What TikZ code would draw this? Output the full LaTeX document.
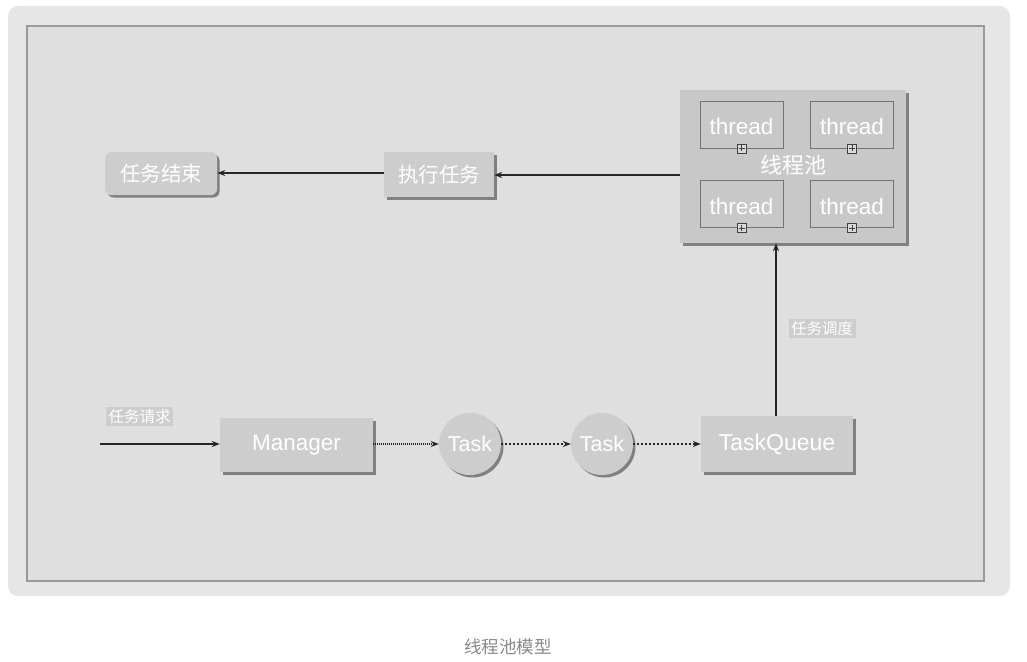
\documentclass[tikz,border=0pt]{standalone}
\usepackage{fontspec}
\setmainfont{Liberation Sans}
\newfontfamily\cjk{Noto Sans CJK SC}
\usetikzlibrary{shadows,arrows.meta}
\definecolor{boxfill}{HTML}{CDCDCD}
\definecolor{poolfill}{HTML}{C8C8C8}
\definecolor{innerbg}{HTML}{DFDFDF}
\definecolor{outerbg}{HTML}{E6E6E6}
\definecolor{framecol}{HTML}{9A9A9A}
\definecolor{capcol}{HTML}{8A8A8A}
\tikzset{
  base/.style={inner sep=0pt, text=white},
  gbox/.style={base, fill=boxfill, drop shadow={shadow xshift=2.5pt, shadow yshift=-2.5pt, opacity=0.7, fill=black!65}},
  thr/.style={draw=black!55, line width=0.9pt, fill=poolfill, minimum width=83pt, minimum height=47pt, inner sep=0pt},
  lbl/.style={fill=boxfill, text=white, inner sep=2.5pt, font=\cjk\fontsize{15.5}{17}\selectfont},
  arr/.style={-{Stealth[length=8pt,width=6pt]}, line width=1.4pt, black!85},
  darr/.style={arr, dash pattern=on 2pt off 2pt, line width=1.1pt},
  marker/.style={draw=black!75, fill=white!85!black, minimum size=9pt, inner sep=0pt, line width=0.7pt},
}
\begin{document}
\begin{tikzpicture}[x=1pt,y=-1pt]
\useasboundingbox (0,0) rectangle (1027,661);
\fill[white] (0,0) rectangle (1027,661);
% outer frame
\fill[outerbg, rounded corners=10pt] (8,6) rectangle (1010,596);
\fill[innerbg] (26,25) rectangle (985,582);
\draw[framecol, line width=2.2pt] (27,26) rectangle (984,581);
% pool
\node[base, fill=poolfill, minimum width=226pt, minimum height=153pt, drop shadow={shadow xshift=3pt, shadow yshift=-3pt, opacity=0.7, fill=black!65}] (pool) at (793,166.5) {};
\node[thr] (t1) at (741.5,124.5) {};
\node[thr] (t2) at (852,124.5) {};
\node[thr] (t3) at (741.5,204) {};
\node[thr] (t4) at (852,204) {};
\foreach \t in {t1,t2,t3,t4}{
  \node[base, font=\fontsize{22.5}{24}\selectfont] at ([yshift=-2pt]\t.center) {thread};
  \node[marker] (m\t) at (\t.south) {};
  \draw[black!75, line width=0.7pt] ([xshift=-3pt]m\t.center) -- ([xshift=3pt]m\t.center)
        ([yshift=-3pt]m\t.center) -- ([yshift=3pt]m\t.center);
}
\node[base, font=\cjk\fontsize{22}{24}\selectfont] (poolname) at (793,165) {线程池};
% top row
\node[gbox, rounded corners=6pt, minimum width=112pt, minimum height=43pt, font=\cjk\fontsize{20.5}{22}\selectfont] (end) at (161,173.5) {任务结束};
\node[gbox, minimum width=110pt, minimum height=45pt, font=\cjk\fontsize{20.5}{22}\selectfont] (exec) at (439,174.5) {执行任务};
\draw[arr] (pool.west |- 0,175) -- (exec.east |- 0,175);
\draw[arr] (exec.west |- 0,173) -- (end.east |- 0,173);
% bottom row
\node[gbox, minimum width=153pt, minimum height=54pt, font=\fontsize{22.5}{24}\selectfont] (mgr) at (296.5,445) {Manager};
\node[gbox, circle, minimum size=62pt, font=\fontsize{21.5}{24}\selectfont] (task1) at (470,444) {Task};
\node[gbox, circle, minimum size=62pt, font=\fontsize{21.5}{24}\selectfont] (task2) at (602,444) {Task};
\node[gbox, minimum width=152pt, minimum height=56pt, font=\fontsize{23}{24}\selectfont] (tq) at (777,444) {TaskQueue};
\coordinate (req) at (100,444);
\node[lbl] (reqlbl) at (139.5,416.5) {任务请求};
\draw[arr] (req) -- (mgr.west |- req);
\draw[arr, dash pattern=on 1pt off 1pt, line width=1.1pt] (mgr.east |- task1) -- (task1.west);
\draw[darr] (task1.east) -- (task2.west);
\draw[darr] (task2.east) -- (tq.west |- task2);
\draw[arr] (tq.north -| 776,0) -- (pool.south -| 776,0);
\node[lbl] (sched) at (822,328.5) {任务调度};
% caption
\node[text=capcol, font=\cjk\fontsize{17.5}{20}\selectfont] (cap) at (508,647) {线程池模型};
\end{tikzpicture}
\end{document}
